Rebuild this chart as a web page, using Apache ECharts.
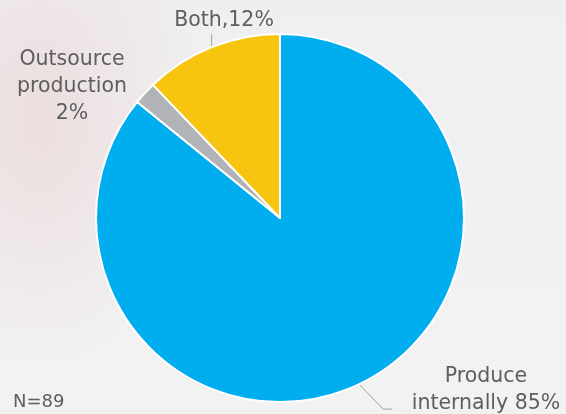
<!DOCTYPE html>
<html>
<head>
<meta charset="utf-8">
<script src="https://cdn.jsdelivr.net/npm/echarts@6/dist/echarts.min.js"></script>
<style>
  html, body { margin: 0; padding: 0; }
  body {
    width: 566px; height: 414px; overflow: hidden;
    background:
      radial-gradient(ellipse 160px 250px at 40px 120px, rgba(236, 221, 221, 0.95), rgba(236, 221, 221, 0) 100%),
      linear-gradient(180deg, #efeef1 0%, #f3f2f3 100%);
  }
  #chart { width: 566px; height: 414px; }
</style>
</head>
<body>
<div id="chart"></div>
<script>
// Production approach shares (percent), clockwise from 12 o'clock
const categories = ['Produce internally', 'Outsource production', 'Both'];
const shares = [85, 2, 12];
const sliceColors = ['#00aeef', '#b1b3b6', '#f7c40f'];
const labelTexts = ['Produce\ninternally 85%', 'Outsource\nproduction\n2%', 'Both,12%'];
const sampleNote = 'N=89';

// where each label's text block is centred
const labelAnchors = [
  { x: 486, y: 390 },
  { x: 72, y: 87 },
  { x: 224, y: 21 }
];

// leader shapes, as offsets from the point on the slice edge
const leaderBends = [
  [[24, 25], [33, 25]],
  null,
  [[0, -13], [0, -13]]
];

const chart = echarts.init(document.getElementById('chart'), null, { renderer: 'canvas' });

chart.setOption({
  backgroundColor: 'transparent',
  animation: false,
  title: {
    text: sampleNote,
    left: 8,
    top: 388,
    textStyle: { fontFamily: 'DejaVu Sans', fontSize: 18, fontWeight: 'normal', color: '#5e5e5e' }
  },
  series: [{
    type: 'pie',
    center: [280, 218],
    radius: [0, 184],
    startAngle: 90,
    clockwise: true,
    itemStyle: { borderColor: '#ffffff', borderWidth: 2 },
    label: {
      show: true,
      position: 'outside',
      fontFamily: 'DejaVu Sans',
      fontSize: 20.5,
      lineHeight: 27,
      color: '#5e5e5e',
      align: 'center',
      formatter: p => labelTexts[p.dataIndex]
    },
    labelLine: {
      show: true,
      length: 8,
      length2: 8,
      lineStyle: { color: '#a0a0a0', width: 1 }
    },
    labelLayout: p => {
      const out = {
        x: labelAnchors[p.dataIndex].x,
        y: labelAnchors[p.dataIndex].y,
        align: 'center',
        verticalAlign: 'middle'
      };
      const bends = leaderBends[p.dataIndex];
      if (bends && p.labelLinePoints) {
        const s = p.labelLinePoints[0];
        out.labelLinePoints = [
          [s[0], s[1]],
          [s[0] + bends[0][0], s[1] + bends[0][1]],
          [s[0] + bends[1][0], s[1] + bends[1][1]]
        ];
      }
      return out;
    },
    data: categories.map((name, i) => ({
      name,
      value: shares[i],
      itemStyle: { color: sliceColors[i] },
      labelLine: { show: i !== 1 }
    }))
  }]
});
</script>
</body>
</html>
